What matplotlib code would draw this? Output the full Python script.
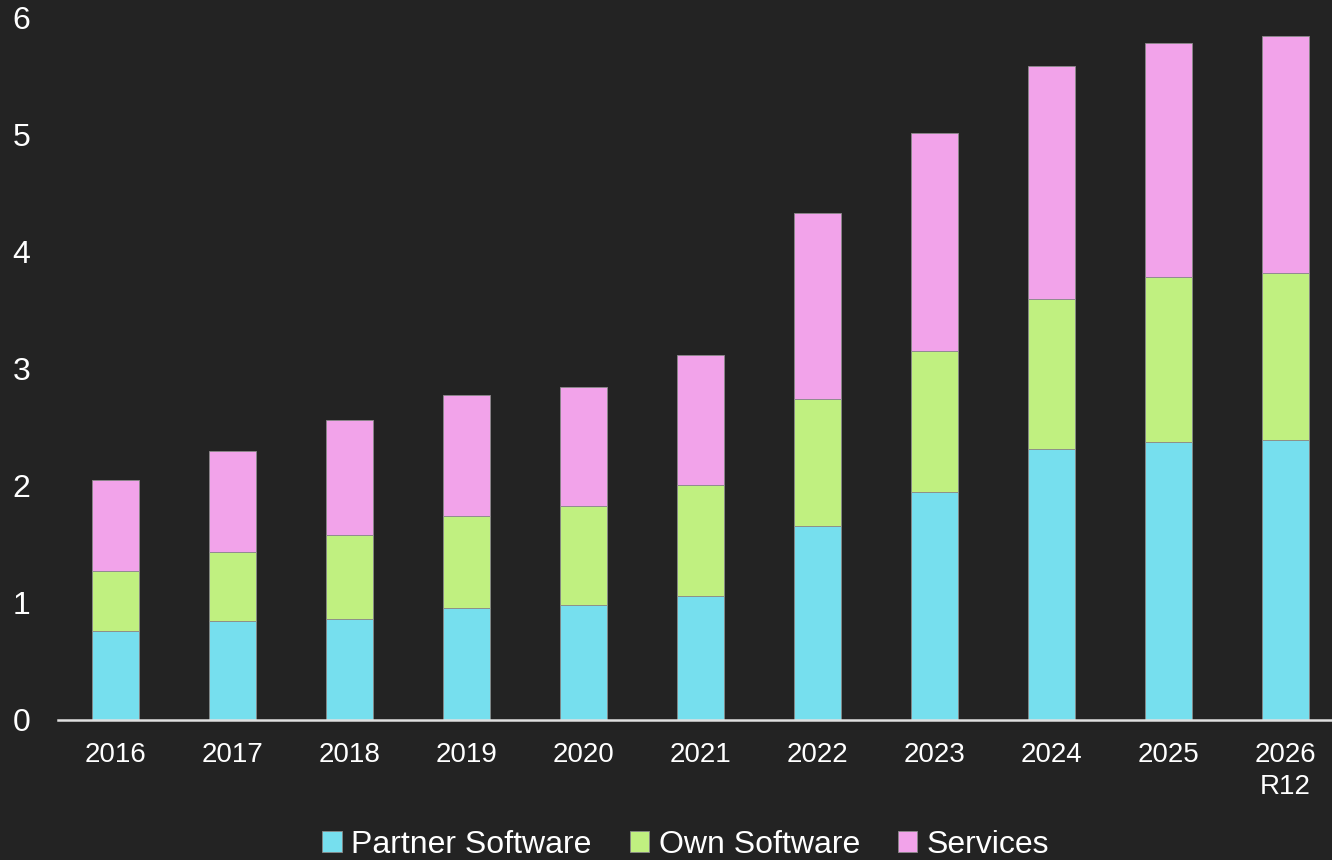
import numpy as np
import matplotlib
matplotlib.use("Agg")
import matplotlib.pyplot as plt

plt.rcParams["font.family"] = ["Liberation Sans", "DejaVu Sans"]

# ── Data ──────────────────────────────────────────────────────────────────────
years = ["2016", "2017", "2018", "2019", "2020", "2021",
         "2022", "2023", "2024", "2025", "2026\nR12"]
partner_sw = [0.76, 0.85, 0.86, 0.96, 0.98, 1.06, 1.66, 1.95, 2.32, 2.38, 2.39]
own_sw     = [0.51, 0.59, 0.72, 0.78, 0.85, 0.95, 1.08, 1.20, 1.28, 1.41, 1.43]
services   = [0.78, 0.86, 0.98, 1.04, 1.02, 1.11, 1.59, 1.87, 1.99, 2.00, 2.03]

BG = "#232323"
COLORS = {
    "Partner Software": "#76dfee",
    "Own Software":     "#c0f080",
    "Services":         "#f2a3ea",
}

fig = plt.figure(figsize=(13.32, 8.6), dpi=100)
fig.patch.set_facecolor(BG)
ax = fig.add_axes([0.0435, 0.1628, 0.9565, 0.8163])
ax.set_facecolor(BG)

x = np.arange(len(years))
bottom = np.zeros(len(years))
for label, vals in [("Partner Software", partner_sw),
                    ("Own Software", own_sw),
                    ("Services", services)]:
    ax.bar(x, vals, width=0.4, bottom=bottom, color=COLORS[label],
           edgecolor="#8a8a8a", linewidth=0.6, label=label)
    bottom += np.array(vals)

ax.set_xlim(-0.49, 10.40)
ax.set_ylim(0, 6)
ax.set_yticks(range(0, 7))
ax.set_xticks(x)
ax.set_xticklabels(years, linespacing=1.3)

for side in ["top", "right", "left"]:
    ax.spines[side].set_visible(False)
ax.spines["bottom"].set_color("#e0e0e0")
ax.spines["bottom"].set_linewidth(1.8)

ax.tick_params(axis="both", length=0, colors="white")
ax.tick_params(axis="y", pad=20, labelsize=23)
ax.tick_params(axis="x", pad=16, labelsize=20)

fig.legend(loc="lower center", bbox_to_anchor=(0.515, -0.033), ncol=3,
           frameon=False, fontsize=23, labelcolor="white",
           handlelength=0.6, handleheight=0.6, handletextpad=0.3,
           columnspacing=1.2)

plt.savefig("out.png", dpi=100, facecolor=BG)
